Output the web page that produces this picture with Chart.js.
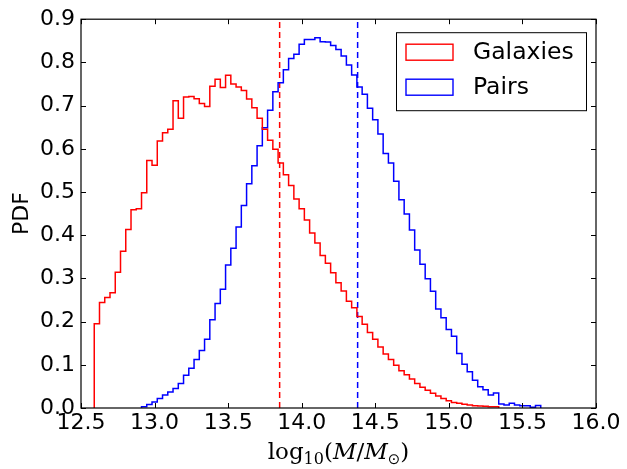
<!DOCTYPE html>
<html>
<head>
<meta charset="utf-8">
<script src="https://cdn.jsdelivr.net/npm/chart.js@4.4.1/dist/chart.umd.min.js"></script>
<style>
  html, body { margin: 0; padding: 0; background: #fff; }
  #wrap { width: 627px; height: 469px; }
</style>
</head>
<body>
<div id="wrap"><canvas id="pdfChart" width="627" height="469"></canvas></div>
<script>
// --- Data ---
const binStart = 12.59;
const binWidth = 0.0357;

const galaxiesPdf = [
  0.195, 0.244, 0.256, 0.267, 0.314, 0.363, 0.413, 0.459, 0.461, 0.498,
  0.573, 0.562, 0.618, 0.637, 0.645, 0.711, 0.671, 0.720, 0.721, 0.716,
  0.705, 0.698, 0.745, 0.761, 0.742, 0.770, 0.750, 0.743, 0.735, 0.715,
  0.695, 0.671, 0.645, 0.620, 0.599, 0.567, 0.540, 0.515, 0.484, 0.461,
  0.435, 0.405, 0.382, 0.353, 0.335, 0.313, 0.290, 0.271, 0.247, 0.232,
  0.212, 0.194, 0.175, 0.159, 0.141, 0.125, 0.112, 0.099, 0.086, 0.077,
  0.067, 0.057, 0.048, 0.041, 0.034, 0.028, 0.022, 0.017, 0.013, 0.011,
  0.0085, 0.007, 0.0053, 0.0046, 0.004, 0.003, 0.003
];

const pairsFirstBin = 9;
const pairsPdf = [
  0.003, 0.008, 0.014, 0.022, 0.030, 0.037, 0.045, 0.057, 0.076, 0.092,
  0.112, 0.133, 0.159, 0.204, 0.242, 0.275, 0.331, 0.370, 0.419, 0.469,
  0.519, 0.561, 0.607, 0.649, 0.689, 0.732, 0.753, 0.783, 0.809, 0.819,
  0.842, 0.853, 0.853, 0.857, 0.848, 0.847, 0.839, 0.830, 0.815, 0.794,
  0.771, 0.743, 0.726, 0.694, 0.667, 0.634, 0.589, 0.567, 0.525, 0.482,
  0.449, 0.412, 0.366, 0.333, 0.299, 0.270, 0.229, 0.209, 0.182, 0.166,
  0.126, 0.101, 0.084, 0.064, 0.049, 0.042, 0.030, 0.035, 0.009, 0.007,
  0.011, 0.007, 0.005, 0.005, 0.002, 0.006
];

const medianGalaxies = 13.85;
const medianPairs = 14.38;

const seriesLabels = ['Galaxies', 'Pairs'];
const seriesColors = ['#ff0000', '#0000ff'];

const xTicks = [12.5, 13.0, 13.5, 14.0, 14.5, 15.0, 15.5, 16.0];
const yTicks = [0.0, 0.1, 0.2, 0.3, 0.4, 0.5, 0.6, 0.7, 0.8, 0.9];

const tickFont = { family: '"DejaVu Sans", sans-serif', size: 22 };

// histogram outline as step points on the bin edges
function stepPoints(values, firstBin) {
  const edge = k => binStart + (firstBin + k) * binWidth;
  const pts = [{ x: edge(0), y: 0 }];
  values.forEach((v, i) => pts.push({ x: edge(i), y: v }));
  pts.push({ x: edge(values.length), y: 0 });
  return pts;
}

function medianLine(v) {
  return [{ x: v, y: yTicks[0] }, { x: v, y: yTicks[yTicks.length - 1] }];
}

// --- Frame, ticks, legend and axis titles ---
const framePlugin = {
  id: 'frame',
  afterDatasetsDraw(chart) {
    const { ctx, chartArea: a, scales: { x, y } } = chart;
    ctx.save();

    // inward ticks on all four sides
    ctx.strokeStyle = '#000';
    ctx.lineWidth = 1;
    ctx.beginPath();
    xTicks.forEach(v => {
      const px = Math.round(x.getPixelForValue(v)) + 0.5;
      ctx.moveTo(px, a.bottom); ctx.lineTo(px, a.bottom - 5);
      ctx.moveTo(px, a.top); ctx.lineTo(px, a.top + 5);
    });
    yTicks.forEach(v => {
      const py = Math.round(y.getPixelForValue(v)) + 0.5;
      ctx.moveTo(a.left, py); ctx.lineTo(a.left + 5, py);
      ctx.moveTo(a.right, py); ctx.lineTo(a.right - 5, py);
    });
    ctx.stroke();

    ctx.lineWidth = 1.2;
    ctx.strokeRect(a.left, a.top, a.right - a.left, a.bottom - a.top);

    // legend box
    const bx = a.right - 200, by = a.top + 13, bw = 190, bh = 78;
    ctx.fillStyle = '#fff';
    ctx.fillRect(bx, by, bw, bh);
    ctx.lineWidth = 1;
    ctx.strokeStyle = '#000';
    ctx.strokeRect(bx + 0.5, by + 0.5, bw, bh);
    ctx.font = '23.5px "DejaVu Sans", sans-serif';
    ctx.textBaseline = 'middle';
    ctx.textAlign = 'left';
    seriesLabels.forEach((label, i) => {
      const cy = by + 20 + i * 35;
      ctx.strokeStyle = seriesColors[i];
      ctx.lineWidth = 1.4;
      ctx.strokeRect(bx + 10, cy - 8, 47, 16);
      ctx.fillStyle = '#000';
      ctx.fillText(label, bx + 77, cy + 1);
    });

    // y title
    ctx.save();
    ctx.translate(22, (a.top + a.bottom) / 2);
    ctx.rotate(-Math.PI / 2);
    ctx.textAlign = 'center';
    ctx.textBaseline = 'middle';
    ctx.fillStyle = '#000';
    ctx.font = '22px "DejaVu Sans", sans-serif';
    ctx.fillText('PDF', 0, 0);
    ctx.restore();

    // x title: log10(M/M_sun)
    const serif = '"DejaVu Serif", serif';
    const parts = [
      { t: 'log', f: `23px ${serif}`, dy: 0 },
      { t: '10', f: `16px ${serif}`, dy: 5 },
      { t: '(', f: `23px ${serif}`, dy: 0 },
      { t: 'M', f: `italic 23px ${serif}`, dy: 0 },
      { t: '/', f: `23px ${serif}`, dy: 0 },
      { t: 'M', f: `italic 23px ${serif}`, dy: 0 },
      { t: '\u2299', f: `15px "DejaVu Sans", sans-serif`, dy: 5 },
      { t: ')', f: `23px ${serif}`, dy: 0 }
    ];
    let total = 0;
    parts.forEach(p => { ctx.font = p.f; p.w = ctx.measureText(p.t).width; total += p.w; });
    let cx = (a.left + a.right) / 2 - total / 2;
    ctx.textAlign = 'left';
    ctx.textBaseline = 'alphabetic';
    ctx.fillStyle = '#000';
    parts.forEach(p => { ctx.font = p.f; ctx.fillText(p.t, cx, 459 + p.dy); cx += p.w; });

    ctx.restore();
  }
};

// --- Chart ---
const ctx = document.getElementById('pdfChart').getContext('2d');
const pdfChart = new Chart(ctx, {
  type: 'line',
  data: {
    datasets: [
      {
        label: seriesLabels[0],
        data: stepPoints(galaxiesPdf, 0),
        borderColor: seriesColors[0],
        borderWidth: 1.5,
        stepped: true,
        pointRadius: 0,
        fill: false
      },
      {
        label: seriesLabels[1],
        data: stepPoints(pairsPdf, pairsFirstBin),
        borderColor: seriesColors[1],
        borderWidth: 1.5,
        stepped: true,
        pointRadius: 0,
        fill: false
      },
      {
        label: 'median galaxies',
        data: medianLine(medianGalaxies),
        borderColor: seriesColors[0],
        borderWidth: 1.5,
        borderDash: [6, 4],
        pointRadius: 0
      },
      {
        label: 'median pairs',
        data: medianLine(medianPairs),
        borderColor: seriesColors[1],
        borderWidth: 1.5,
        borderDash: [6, 4],
        pointRadius: 0
      }
    ]
  },
  options: {
    responsive: false,
    animation: false,
    devicePixelRatio: 1,
    layout: { padding: { left: 0, right: 31, top: 18, bottom: 0 } },
    plugins: {
      legend: { display: false },
      tooltip: { enabled: false },
      title: { display: false }
    },
    scales: {
      x: {
        type: 'linear',
        min: 12.5,
        max: 16.0,
        afterBuildTicks: s => { s.ticks = xTicks.map(v => ({ value: v })); },
        afterFit: s => { s.height = 61; },
        ticks: {
          font: tickFont,
          color: '#000',
          padding: 2,
          maxRotation: 0,
          callback: v => Number(v).toFixed(1)
        },
        grid: { display: false, drawTicks: false },
        border: { display: false }
      },
      y: {
        type: 'linear',
        min: 0,
        max: 0.9,
        afterBuildTicks: s => { s.ticks = yTicks.map(v => ({ value: v })); },
        afterFit: s => { s.width = 81; },
        ticks: {
          font: tickFont,
          color: '#000',
          padding: 6,
          callback: v => Number(v).toFixed(1)
        },
        grid: { display: false, drawTicks: false },
        border: { display: false }
      }
    }
  },
  plugins: [framePlugin]
});
</script>
</body>
</html>
